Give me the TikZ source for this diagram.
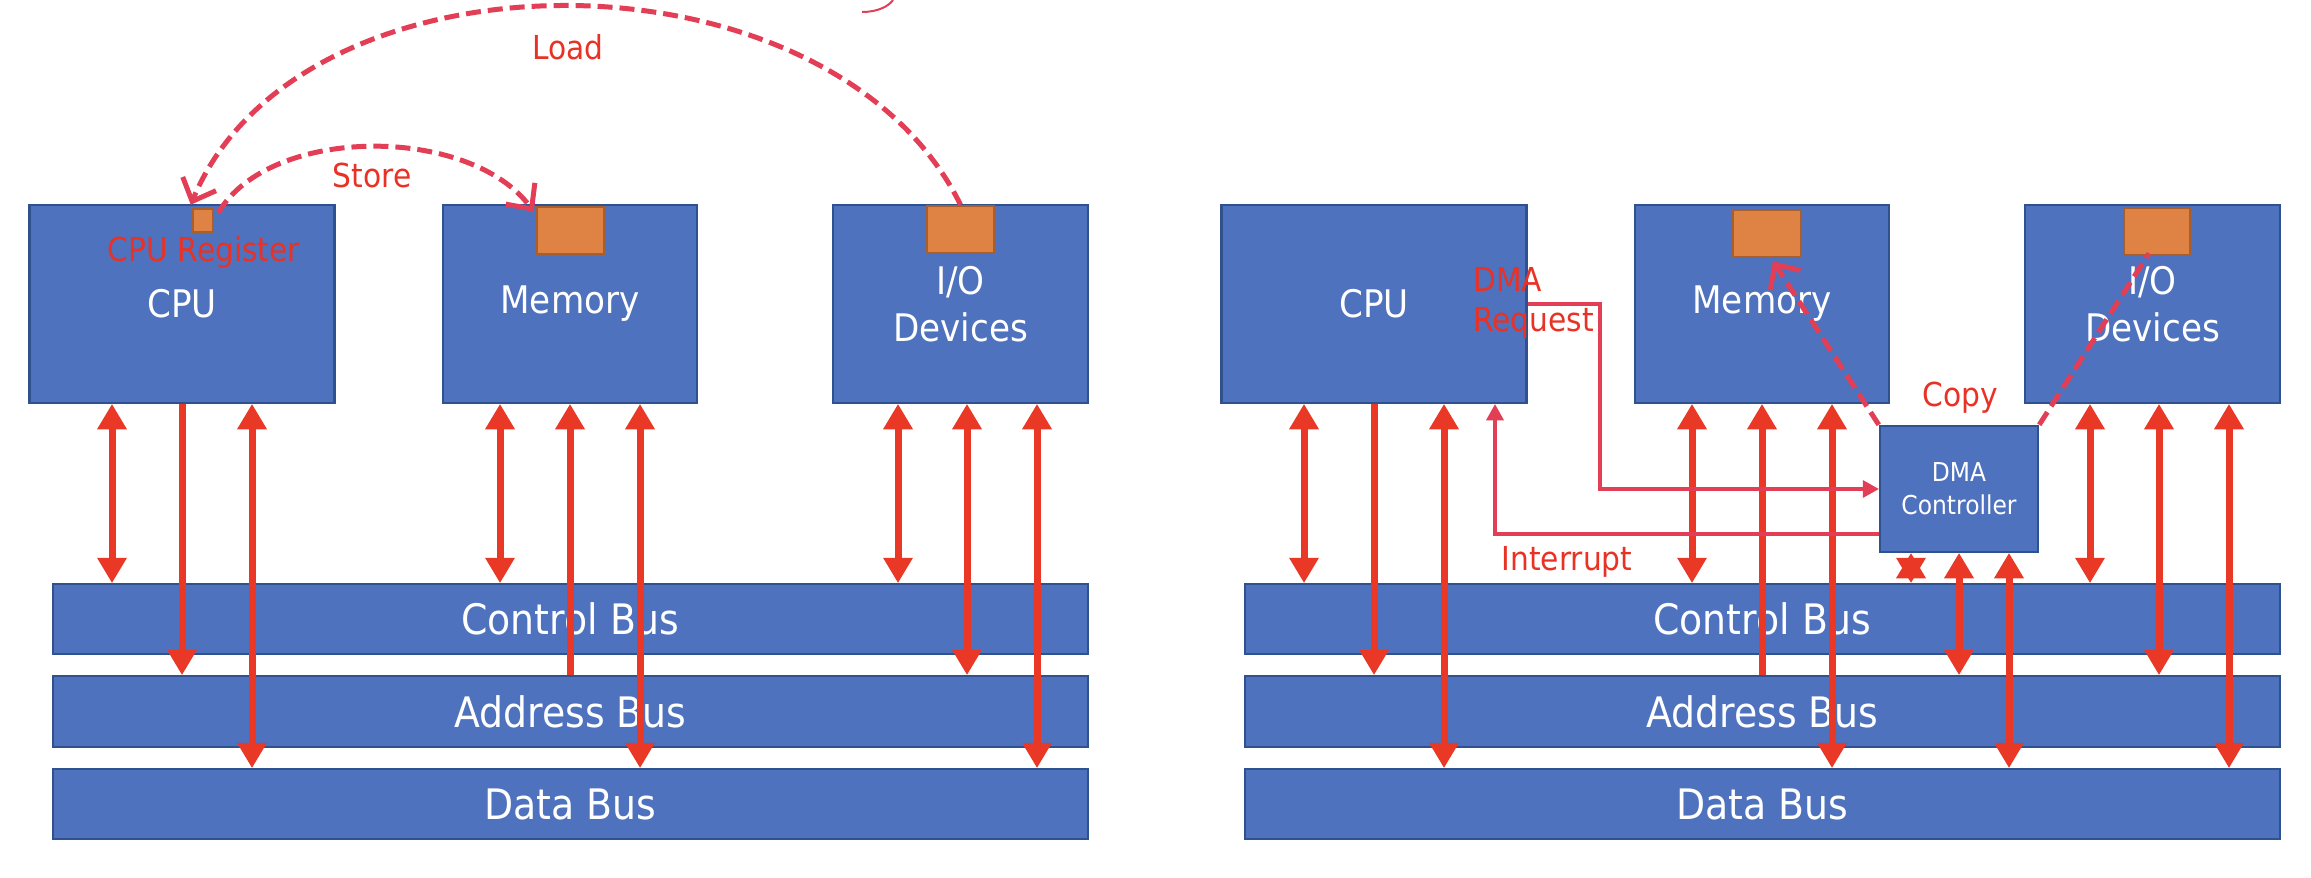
\documentclass[tikz,border=0pt]{standalone}
\usepackage{fontspec}
\setmainfont{DejaVu Sans}[FakeStretch=0.9]
\usetikzlibrary{arrows.meta,calc}

\definecolor{boxblue}{RGB}{78,114,190}
\definecolor{boxedge}{RGB}{47,82,143}
\definecolor{regorange}{RGB}{223,131,68}
\definecolor{regedge}{RGB}{168,94,45}
\definecolor{busred}{RGB}{233,56,37}
\definecolor{flowred}{RGB}{226,62,86}
\definecolor{labelred}{RGB}{232,50,38}

\tikzset{
  unit/.style={draw=boxedge, line width=2.5pt, fill=boxblue, text=white,
    align=center, inner sep=0pt, font=\fontsize{38}{47}\selectfont},
  bus/.style={unit, font=\fontsize{42}{50}\selectfont},
  reg/.style={draw=regedge, line width=2.5pt, fill=regorange, inner sep=0pt},
  tag/.style={text=labelred, inner sep=0pt, font=\fontsize{33}{40}\selectfont},
  busline/.style={draw=busred, line width=7pt,
    >={Triangle[length=25pt,width=30pt,line width=0pt]}},
  sigline/.style={draw=flowred, line width=3.5pt,
    >={Triangle[length=16pt,width=18pt,line width=0pt]}},
  flowline/.style={draw=flowred, line width=5pt, dash pattern=on 15pt off 7pt,
    >={Straight Barb[length=19pt,width=36pt]}}
}

\begin{document}
\begin{tikzpicture}[x=1pt,y=-1pt]
\useasboundingbox (0,0) rectangle (2311,878);

% ---------- programmed I/O: units and buses ----------
\node[unit, minimum width=305pt, minimum height=198pt] (cpuL) at (182,304) {CPU};
\node[unit, minimum width=254pt, minimum height=198pt] (memL) at (570,304) {Memory};
\node[unit, minimum width=255pt, minimum height=198pt] (ioL)  at (960.5,304) {I/O\\Devices};
\node[bus, minimum width=1035pt, minimum height=70pt] (ctlL) at (570.5,619) {Control Bus};
\node[bus, minimum width=1035pt, minimum height=71pt] (adrL) at (570.5,711.5) {Address Bus};
\node[bus, minimum width=1035pt, minimum height=70pt] (datL) at (570.5,804) {Data Bus};

\node[reg, minimum width=20pt, minimum height=23pt] (regL)  at (203,220.5) {};
\node[reg, minimum width=67pt, minimum height=47pt] (cellL) at (570.5,230.5) {};
\node[reg, minimum width=67pt, minimum height=47pt] (portL) at (960.5,229.5) {};

\node[tag] (lblReg) at (204,252) {CPU Register};

% ---------- DMA: units and buses ----------
\node[unit, minimum width=305pt, minimum height=198pt] (cpuR) at (1374,304) {CPU};
\node[unit, minimum width=254pt, minimum height=198pt] (memR) at (1762,304) {Memory};
\node[unit, minimum width=255pt, minimum height=198pt] (ioR)  at (2152.5,304) {I/O\\Devices};
\node[bus, minimum width=1035pt, minimum height=70pt] (ctlR) at (1762.5,619) {Control Bus};
\node[bus, minimum width=1035pt, minimum height=71pt] (adrR) at (1762.5,711.5) {Address Bus};
\node[bus, minimum width=1035pt, minimum height=70pt] (datR) at (1762.5,804) {Data Bus};
\node[unit, minimum width=158pt, minimum height=126pt,
      font=\fontsize{26}{33}\selectfont] (dma) at (1959,489) {DMA\\Controller};

\node[reg, minimum width=68pt, minimum height=47pt] (cellR) at (1767,233.5) {};
\node[reg, minimum width=66pt, minimum height=47pt] (portR) at (2157,231.5) {};

% ---------- bus connections, programmed I/O ----------
\draw[busline, <->] ($(cpuL.south)+(-70,0)$) -- ($(cpuL.south |- ctlL.north)+(-70,0)$);
\draw[busline, ->]  (cpuL.south) -- (cpuL.south |- adrL.north);
\draw[busline, <->] ($(cpuL.south)+(70,0)$) -- ($(cpuL.south |- datL.north)+(70,0)$);

\draw[busline, <->] ($(memL.south)+(-70,0)$) -- ($(memL.south |- ctlL.north)+(-70,0)$);
\draw[busline, <-]  (memL.south) -- (memL.south |- adrL.north);
\draw[busline, <->] ($(memL.south)+(70,0)$) -- ($(memL.south |- datL.north)+(70,0)$);

\draw[busline, <->] ($(ioL.south)+(-62.5,0)$) -- ($(ioL.south |- ctlL.north)+(-62.5,0)$);
\draw[busline, <->] ($(ioL.south)+(6.5,0)$) -- ($(ioL.south |- adrL.north)+(6.5,0)$);
\draw[busline, <->] ($(ioL.south)+(76.5,0)$) -- ($(ioL.south |- datL.north)+(76.5,0)$);

% ---------- bus connections, DMA ----------
\draw[busline, <->] ($(cpuR.south)+(-70,0)$) -- ($(cpuR.south |- ctlR.north)+(-70,0)$);
\draw[busline, ->]  (cpuR.south) -- (cpuR.south |- adrR.north);
\draw[busline, <->] ($(cpuR.south)+(70,0)$) -- ($(cpuR.south |- datR.north)+(70,0)$);

\draw[busline, <->] ($(memR.south)+(-70,0)$) -- ($(memR.south |- ctlR.north)+(-70,0)$);
\draw[busline, <-]  (memR.south) -- (memR.south |- adrR.north);
\draw[busline, <->] ($(memR.south)+(70,0)$) -- ($(memR.south |- datR.north)+(70,0)$);

\draw[busline, <->] ($(ioR.south)+(-62.5,0)$) -- ($(ioR.south |- ctlR.north)+(-62.5,0)$);
\draw[busline, <->] ($(ioR.south)+(6.5,0)$) -- ($(ioR.south |- adrR.north)+(6.5,0)$);
\draw[busline, <->] ($(ioR.south)+(76.5,0)$) -- ($(ioR.south |- datR.north)+(76.5,0)$);

\draw[busline, <->] ($(dma.south)+(-48,0)$) -- ($(dma.south |- ctlR.north)+(-48,0)$);
\draw[busline, <->] (dma.south) -- (dma.south |- adrR.north);
\draw[busline, <->] ($(dma.south)+(50,0)$) -- ($(dma.south |- datR.north)+(50,0)$);

% ---------- load / store through the CPU register ----------
\draw[flowline, ->] (portL.north) .. controls (830,-60) and (300,-60) .. ([shift={(-1pt,3pt)}]regL.north west);
\draw[flowline, ->] ([shift={(4pt,-5pt)}]regL.north east) .. controls (270,125) and (470,125) .. ([shift={(-2pt,-6pt)}]cellL.north west);
\node[tag] (lblLoad)  at (568,47)  {Load};
\node[tag] (lblStore) at (372,175) {Store};
\draw[flowred, line width=2pt] (862,12) .. controls (878,12) and (889,6) .. (893,0);

% ---------- DMA request, interrupt and copy ----------
\coordinate (reqTurn) at (1600,304);
\draw[sigline, ->] (cpuR.east) -- (reqTurn) |- (dma.west);
\coordinate (intTurn) at (1495,534);
\draw[sigline, ->] ([yshift=-45pt]dma.west) -- (intTurn) -- (intTurn |- cpuR.south);

\draw[flowline, ->] (dma.north west) -- ([shift={(6pt,-3pt)}]cellR.south);
\draw[flowline] (dma.north east) -- ([shift={(-8pt,3pt)}]portR.south);

\node[tag, anchor=west, align=left] (lblReq) at (1473,303) {DMA\\Request};
\node[tag] (lblCopy) at (1960,398) {Copy};
\node[tag] (lblInt)  at (1567,562) {Interrupt};
\end{tikzpicture}
\end{document}
